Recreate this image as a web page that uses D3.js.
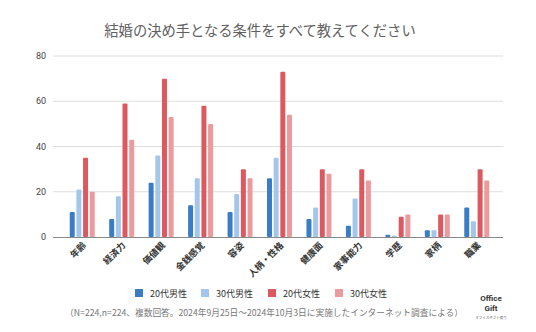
<!DOCTYPE html>
<html><head><meta charset="utf-8">
<script src="https://cdn.jsdelivr.net/npm/d3@7/dist/d3.min.js"></script>
<style>
body{margin:0;background:#fff;}
svg{display:block;font-family:"Noto Sans CJK JP","Noto Sans",sans-serif;}
</style></head><body>
<svg id="c" width="536" height="332"></svg>
<script>
const categories = ["年齢","経済力","価値観","金銭感覚","容姿","人柄・性格","健康面","家事能力","学歴","家柄","職業"];
const seriesNames = ["20代男性","30代男性","20代女性","30代女性"];
const male20 = [11, 8, 24, 14, 11, 26, 8, 5, 1, 3, 13];
const male30 = [21, 18, 36, 26, 19, 35, 13, 17, 0.5, 3, 7];
const female20 = [35, 59, 70, 58, 30, 73, 30, 30, 9, 10, 30];
const female30 = [20, 43, 53, 50, 26, 54, 28, 25, 10, 10, 25];
const yTicks = [0, 20, 40, 60, 80];
const colors = ["#3a7cc6", "#a3c7eb", "#dc5a5f", "#eb9b9d"];
const title = "結婚の決め手となる条件をすべて教えてください";
const note = "（N=224,n=224、複数回答。2024年9月25日～2024年10月3日に実施したインターネット調査による）";

const seriesData = [male20, male30, female20, female30];
const svg = d3.select("#c");

const pLeft = 53, pRight = 503, pTop = 56, pBottom = 237;
const x = d3.scaleBand().domain(categories).range([62, 496]).padding(0);
const y = d3.scaleLinear().domain([0, 80]).range([pBottom, pTop]);
const xs = d3.scaleBand().domain(seriesNames).range([-12, 13]).paddingInner(0.25);

svg.append("text").attr("x", 260).attr("y", 36).attr("text-anchor", "middle")
  .attr("font-size", 14.3).attr("fill", "#606060").text(title);

// gridlines
svg.append("g").selectAll("line").data(yTicks.filter(d => d > 0)).join("line")
  .attr("x1", pLeft).attr("x2", pRight).attr("y1", d => y(d)).attr("y2", d => y(d))
  .attr("stroke", "#dedede").attr("stroke-width", 1);

// y labels
svg.append("g").selectAll("text").data(yTicks).join("text")
  .attr("x", 46).attr("y", d => y(d) + 3).attr("text-anchor", "end")
  .attr("font-size", 9).attr("fill", "#444").attr("font-family", "Roboto, sans-serif").text(d => d);

// bars
const g = svg.append("g");
seriesData.forEach((vals, si) => {
  g.selectAll(null).data(vals).join("rect")
    .attr("x", (d, i) => x(categories[i]) + x.bandwidth() / 2 + xs(seriesNames[si]))
    .attr("width", xs.bandwidth())
    .attr("y", d => y(d))
    .attr("height", d => pBottom - y(d))
    .attr("rx", 1)
    .attr("fill", colors[si]);
});

// zero axis
svg.append("line").attr("x1", pLeft).attr("x2", pRight).attr("y1", pBottom + 0.5).attr("y2", pBottom + 0.5)
  .attr("stroke", "#888").attr("stroke-width", 1);

// x labels
svg.append("g").selectAll("text").data(categories).join("text")
  .attr("transform", d => `translate(${x(d) + x.bandwidth() / 2 + 5},${pBottom + 9}) rotate(-45)`)
  .attr("text-anchor", "end").attr("font-size", 9).attr("font-weight", "bold").attr("fill", "#333")
  .text(d => d);

// legend
const legX = [135, 201, 268, 335];
const leg = svg.append("g");
seriesNames.forEach((n, i) => {
  leg.append("rect").attr("x", legX[i]).attr("y", 289).attr("width", 8).attr("height", 8).attr("fill", colors[i]);
  leg.append("text").attr("x", legX[i] + 15).attr("y", 296.5).attr("font-size", 9)
    .attr("fill", "#333").text(n);
});

svg.append("text").attr("x", 264).attr("y", 316).attr("text-anchor", "middle")
  .attr("font-size", 8.7).attr("fill", "#777").text(note);

// logo
svg.append("text").attr("x", 491).attr("y", 301).attr("text-anchor", "middle")
  .attr("font-size", 8).attr("font-weight", "bold").attr("fill", "#333").attr("font-family", "Roboto, sans-serif").text("Office");
svg.append("text").attr("x", 491).attr("y", 310.5).attr("text-anchor", "middle")
  .attr("font-size", 8).attr("font-weight", "bold").attr("fill", "#333").attr("font-family", "Roboto, sans-serif").text("Gift");
svg.append("text").attr("x", 491).attr("y", 319).attr("text-anchor", "middle")
  .attr("font-size", 3.5).attr("fill", "#666").text("オフィスギフト便り");
</script></body></html>
